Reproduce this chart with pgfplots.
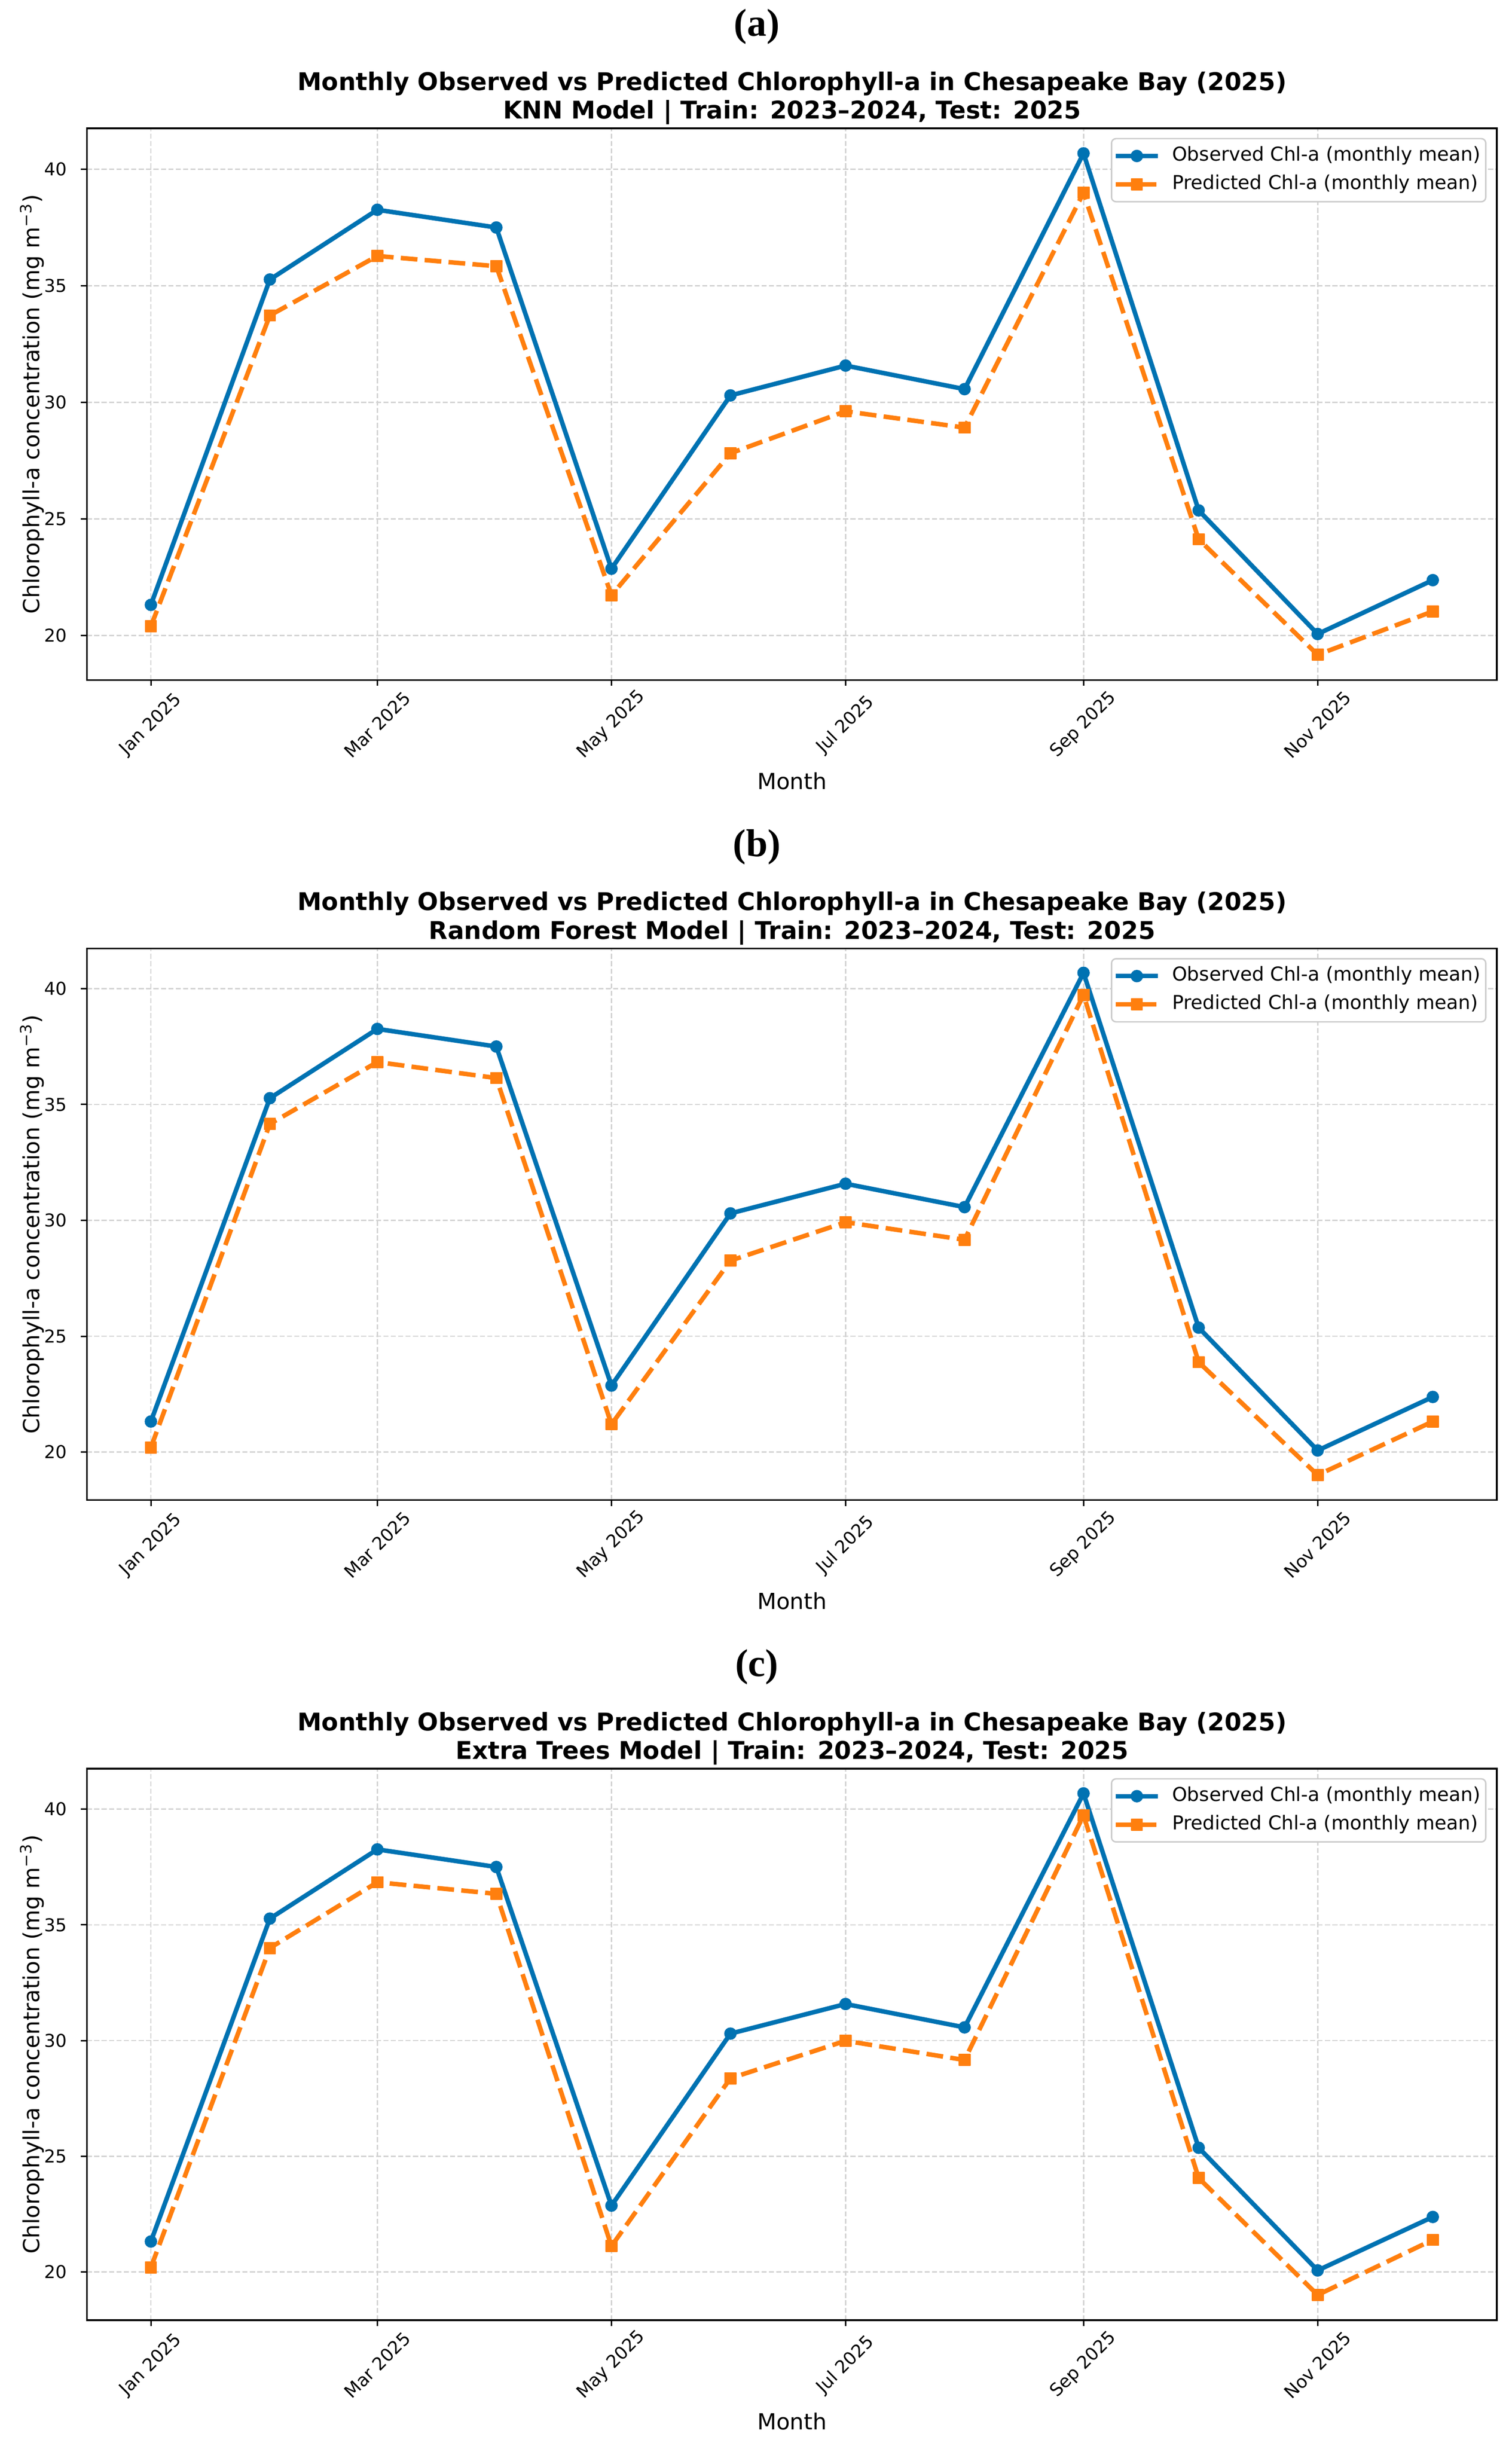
\documentclass[border=0pt]{standalone}
\usepackage{pgfplots}
\pgfplotsset{compat=1.18}
\usepackage{fontspec}
\setmainfont{DejaVu Sans}
\newfontfamily\lblfont{Liberation Serif}
\definecolor{obs}{HTML}{0072B2}
\definecolor{pred}{HTML}{FF7F0E}
\definecolor{gridc}{HTML}{D3D3D3}
\definecolor{legc}{HTML}{CCCCCC}
\pgfplotsset{
 chl/.style={
  scale only axis, width=779.75pt, height=305pt,
  anchor=north west,
  xmin=-16.7, xmax=350.7,
  xtick={0,59,120,181,243,304},
  xticklabels={Jan 2025,Mar 2025,May 2025,Jul 2025,Sep 2025,Nov 2025},
  ytick={20,25,30,35,40},
  tick align=outside, xtick pos=bottom, ytick pos=left,
  major tick length=3.25pt,
  every tick/.style={black, line width=0.8pt},
  axis line style={line width=0.9pt},
  grid=major,
  major grid style={color=gridc, line width=0.7pt, dash pattern=on 2.8pt off 1.3pt},
  tick label style={font=\fontsize{9.8}{11}\selectfont},
  /pgf/number format/assume math mode=true,
  yticklabel style={anchor=east, inner sep=0pt, xshift=-7.5pt},
  xticklabel style={rotate=45, anchor=center, inner sep=0pt},
  xticklabel shift=21.5pt,
  legend cell align=left,
  legend style={at={(1,1)}, anchor=north east, xshift=-5.75pt, yshift=-5.25pt,
    draw=legc, line width=0.8pt, rounded corners=2.5pt, fill=white,
    inner xsep=1pt, inner ysep=1.75pt, column sep=4.5pt, row sep=0pt,
    font=\fontsize{10.6}{12.7}\selectfont,
    nodes={inner xsep=2pt, inner ysep=2.6pt, text height=8pt, text depth=2.5pt}},
  legend image code/.code={\draw[mark repeat=2,mark phase=2,#1] plot coordinates {(0pt,0pt) (11.75pt,0pt) (23.5pt,0pt)};},
 },
 obsstyle/.style={color=obs, line width=2.5pt, line join=round, mark=*, mark size=3.2pt, mark options={solid, line width=0.5pt, fill=obs}},
 predstyle/.style={color=pred, line width=2.5pt, line join=round, dash pattern=on 9.25pt off 4pt, mark=square*, mark size=3.1pt, mark options={solid, line width=0.5pt, fill=pred}},
}
\newcommand\titlefont{\bfseries\fontsize{13.5}{15.75}\selectfont}
\newcommand\labfont{\fontsize{12.25}{14}\selectfont}
\newcommand\panelfont{\lblfont\bfseries\fontsize{21.5}{24}\selectfont}
\begin{document}
\begin{tikzpicture}
\useasboundingbox (0pt,0pt) rectangle (836pt,-1354.25pt);

% ---------------- panel (a)
\begin{axis}[chl, at={(48pt,-71pt)}, ymin=18.10, ymax=41.75]
\addplot[obsstyle] coordinates {(0,21.32) (31,35.27) (59,38.26) (90,37.50) (120,22.87) (151,30.30) (181,31.58) (212,30.57) (243,40.68) (273,25.37) (304,20.07) (334,22.38)};
\addlegendentry{Observed Chl-a (monthly mean)}
\addplot[predstyle] coordinates {(0,20.40) (31,33.73) (59,36.28) (90,35.84) (120,21.73) (151,27.82) (181,29.62) (212,28.92) (243,38.99) (273,24.13) (304,19.18) (334,21.04)};
\addlegendentry{Predicted Chl-a (monthly mean)}
\end{axis}
\node[anchor=base, font=\panelfont] at (418.5pt,-20pt) {(a)};
\node[anchor=base, font=\titlefont] at (438pt,-50pt) {Monthly Observed vs Predicted Chlorophyll-a in Chesapeake Bay (2025)};
\node[anchor=base, font=\titlefont] at (438pt,-65.75pt) {KNN Model | Train: 2023–2024, Test: 2025};
\node[anchor=base, font=\labfont] at (438pt,-436.5pt) {Month};
\node[anchor=base, rotate=90, font=\labfont] at (21.75pt,-223.5pt) {Chlorophyll-a concentration (mg m\textsuperscript{−3})};

% ---------------- panel (b)
\begin{axis}[chl, at={(48pt,-524.5pt)}, ymin=17.93, ymax=41.73]
\addplot[obsstyle] coordinates {(0,21.32) (31,35.27) (59,38.26) (90,37.50) (120,22.87) (151,30.30) (181,31.58) (212,30.57) (243,40.68) (273,25.37) (304,20.07) (334,22.38)};
\addlegendentry{Observed Chl-a (monthly mean)}
\addplot[predstyle] coordinates {(0,20.20) (31,34.16) (59,36.83) (90,36.14) (120,21.20) (151,28.26) (181,29.92) (212,29.16) (243,39.73) (273,23.88) (304,19.01) (334,21.32)};
\addlegendentry{Predicted Chl-a (monthly mean)}
\end{axis}
\node[anchor=base, font=\panelfont] at (418.5pt,-473.5pt) {(b)};
\node[anchor=base, font=\titlefont] at (438pt,-503.5pt) {Monthly Observed vs Predicted Chlorophyll-a in Chesapeake Bay (2025)};
\node[anchor=base, font=\titlefont] at (438pt,-519.25pt) {Random Forest Model | Train: 2023–2024, Test: 2025};
\node[anchor=base, font=\labfont] at (438pt,-890pt) {Month};
\node[anchor=base, rotate=90, font=\labfont] at (21.75pt,-677pt) {Chlorophyll-a concentration (mg m\textsuperscript{−3})};

% ---------------- panel (c)
\begin{axis}[chl, at={(48pt,-978pt)}, ymin=17.92, ymax=41.75]
\addplot[obsstyle] coordinates {(0,21.32) (31,35.27) (59,38.26) (90,37.50) (120,22.87) (151,30.30) (181,31.58) (212,30.57) (243,40.68) (273,25.37) (304,20.07) (334,22.38)};
\addlegendentry{Observed Chl-a (monthly mean)}
\addplot[predstyle] coordinates {(0,20.20) (31,34.00) (59,36.84) (90,36.34) (120,21.12) (151,28.37) (181,29.99) (212,29.16) (243,39.73) (273,24.06) (304,19.01) (334,21.39)};
\addlegendentry{Predicted Chl-a (monthly mean)}
\end{axis}
\node[anchor=base, font=\panelfont] at (418.5pt,-927pt) {(c)};
\node[anchor=base, font=\titlefont] at (438pt,-957pt) {Monthly Observed vs Predicted Chlorophyll-a in Chesapeake Bay (2025)};
\node[anchor=base, font=\titlefont] at (438pt,-972.75pt) {Extra Trees Model | Train: 2023–2024, Test: 2025};
\node[anchor=base, font=\labfont] at (438pt,-1343.5pt) {Month};
\node[anchor=base, rotate=90, font=\labfont] at (21.75pt,-1130.5pt) {Chlorophyll-a concentration (mg m\textsuperscript{−3})};
\end{tikzpicture}
\end{document}
